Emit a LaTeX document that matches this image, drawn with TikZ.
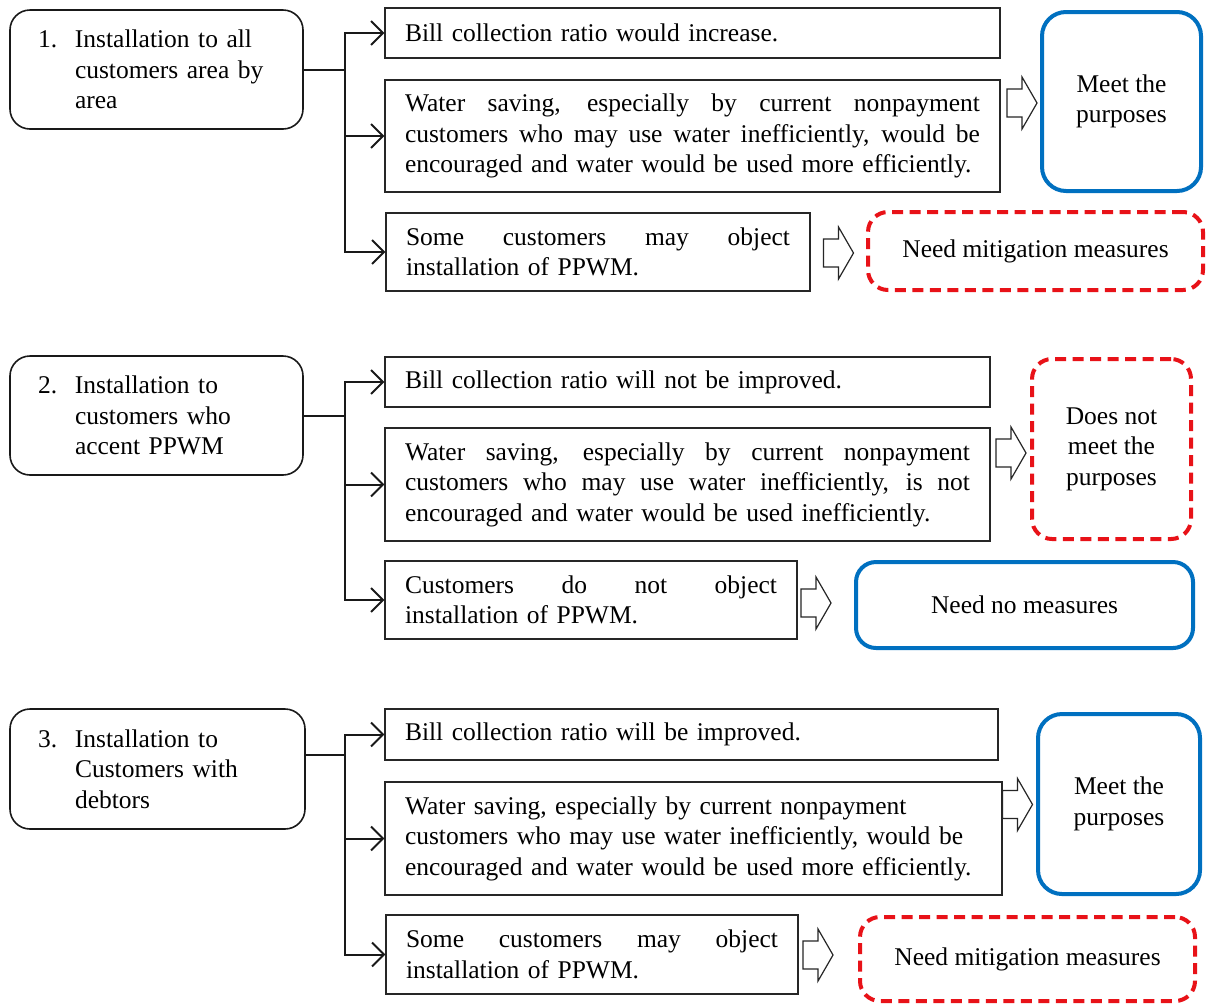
\documentclass[tikz,border=0pt]{standalone}
\usepackage{fontspec}
\setmainfont{Liberation Serif}
\usetikzlibrary{arrows.meta,calc}
\definecolor{goodblue}{RGB}{0,112,192}
\definecolor{badred}{RGB}{232,18,24}
\tikzset{
  txt/.style={font=\fontsize{25.5}{30.5}\selectfont},
  leftbox/.style={txt,draw=black!90,line width=1.6pt,rounded corners=20pt,inner xsep=0pt,inner ysep=0pt,align=left,text width=#1},
  effbox/.style={txt,draw=black!85,line width=1.1pt,inner xsep=20pt,inner ysep=0pt,align=left,text width=#1},
  goodbox/.style={txt,draw=goodblue,line width=4pt,rounded corners=24pt,align=center,inner sep=0pt},
  badbox/.style={txt,draw=badred,line width=4pt,rounded corners=20pt,align=center,inner sep=0pt,dash pattern=on 11pt off 6.5pt},
  bracket/.style={line width=2pt,black!90},
  branch/.style={bracket,-{Straight Barb[length=12pt,width=24pt]}},
  barrow/.pic={\draw[line width=1.2pt,black!85,line join=miter,fill=white]
     (-15,-14) -- (0,-14) -- (0,-26) -- (15,0) -- (0,26) -- (0,14) -- (-15,14) -- cycle;}
}
\newcommand{\jl}[2]{\makebox[#1][s]{\spaceskip=0.25em plus 20em\relax #2}}
\newcommand{\nl}[1]{\mbox{#1}}
\begin{document}
\begin{tikzpicture}[x=1pt,y=-1pt]
\useasboundingbox (0,0) rectangle (1206,1005);
\fill[white] (0,0) rectangle (1206,1005);

% ---------------- Section 1 ----------------
\node[leftbox=293pt,minimum height=119pt] (L1) at (156.5,69.5)
  {\hspace*{28pt}\makebox[37pt][l]{1.}\nl{Installation to all}\\\hspace*{65pt}\nl{customers area by}\\\hspace*{65pt}area};
\node[effbox=575pt,minimum height=50pt] (A1) at (692.5,33) {\nl{Bill collection ratio would increase.}};
\node[effbox=575pt,minimum height=112pt] (A2) at (692.5,136)
  {\jl{575pt}{Water saving, especially by current nonpayment}\\
   \jl{575pt}{customers who may use water inefficiently, would be}\\
   \nl{encouraged and water would be used more efficiently.}};
\node[effbox=384pt,minimum height=78pt] (A3) at (598,252)
  {\jl{384pt}{Some customers may object}\\\nl{installation of PPWM.}};
\node[goodbox,minimum width=159pt,minimum height=179pt] (G1) at (1121.5,101.5) {Meet the\\purposes};
\node[badbox,minimum width=335pt,minimum height=78pt] (R1) at (1035.5,251) {Need mitigation measures};
\coordinate (j1) at (345,70);
\draw[bracket] (L1.east |- j1) -- (j1);
\draw[branch] (j1) |- (A1.west);
\draw[branch] (j1) |- (A2.west);
\draw[branch] (j1) |- (A3.west);
\pic at (1022,103) {barrow};
\pic at (838.5,253) {barrow};

% ---------------- Section 2 ----------------
\node[leftbox=293pt,minimum height=119pt] (L2) at (156.5,415.5)
  {\hspace*{28pt}\makebox[37pt][l]{2.}\nl{Installation to}\\\hspace*{65pt}\nl{customers who}\\\hspace*{65pt}\nl{accent PPWM}};
\node[effbox=565pt,minimum height=50pt] (B1) at (687.5,382) {\nl{Bill collection ratio will not be improved.}};
\node[effbox=565pt,minimum height=113pt] (B2) at (687.5,484.5)
  {\jl{565pt}{Water saving, especially by current nonpayment}\\
   \jl{565pt}{customers who may use water inefficiently, is not}\\
   \nl{encouraged and water would be used inefficiently.}};
\node[effbox=372pt,minimum height=78pt] (B3) at (591,600)
  {\jl{372pt}{Customers do not object}\\\nl{installation of PPWM.}};
\node[badbox,minimum width=159pt,minimum height=180pt] (R2) at (1111.5,449) {Does not\\meet the\\purposes};
\node[goodbox,rounded corners=20pt,minimum width=337pt,minimum height=86pt] (G2) at (1024.5,605) {Need no measures};
\coordinate (j2) at (345,416);
\draw[bracket] (L2.east |- j2) -- (j2);
\draw[branch] (j2) |- (B1.west);
\draw[branch] (j2) |- (B2.west);
\draw[branch] (j2) |- (B3.west);
\pic at (1011,453) {barrow};
\pic at (816,603) {barrow};

% ---------------- Section 3 ----------------
\node[leftbox=295pt,minimum height=120pt] (L3) at (157.5,769)
  {\hspace*{28pt}\makebox[37pt][l]{3.}\nl{Installation to}\\\hspace*{65pt}\nl{Customers with}\\\hspace*{65pt}debtors};
\node[effbox=573pt,minimum height=51pt] (C1) at (691.5,734.5) {\nl{Bill collection ratio will be improved.}};
\node[effbox=577pt,minimum height=113pt] (C2) at (693.5,838.5)
  {\nl{Water saving, especially by current nonpayment}\\
   \nl{customers who may use water inefficiently, would be}\\
   \nl{encouraged and water would be used more efficiently.}};
\node[effbox=372pt,minimum height=79pt] (C3) at (592,954.5)
  {\jl{372pt}{Some customers may object}\\\nl{installation of PPWM.}};
\node[goodbox,minimum width=162pt,minimum height=180pt] (G3) at (1119,804) {Meet the\\purposes};
\node[badbox,minimum width=335pt,minimum height=84pt] (R3) at (1027.5,959) {Need mitigation measures};
\coordinate (j3) at (345,755);
\draw[bracket] (L3.east |- j3) -- (j3);
\draw[branch] (j3) |- (C1.west);
\draw[branch] (j3) |- (C2.west);
\draw[branch] (j3) |- (C3.west);
\pic at (1017.5,804.5) {barrow};
\pic at (818,955) {barrow};
\end{tikzpicture}
\end{document}
